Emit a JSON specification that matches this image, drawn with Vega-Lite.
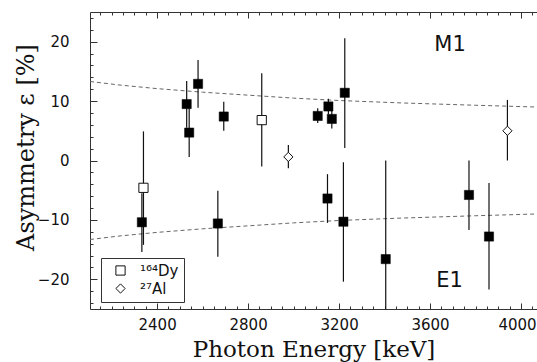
{
  "$schema": "https://vega.github.io/schema/vega-lite/v6.json",
  "width": 447,
  "height": 297,
  "autosize": {"type": "none"},
  "padding": {"left": 90, "top": 12, "right": 0, "bottom": 53},
  "background": "white",
  "config": {
    "view": {"stroke": null},
    "axis": {
      "grid": false,
      "domainColor": "#333",
      "domainWidth": 1,
      "tickColor": "#333",
      "tickWidth": 1,
      "labelColor": "#111",
      "labelFont": "DejaVu Sans",
      "labelFontSize": 15,
      "labelOverlap": false,
      "labelFlush": false,
      "titleColor": "#111",
      "titleFont": "DejaVu Serif",
      "titleFontSize": 23,
      "titleFontWeight": "normal"
    }
  },
  "datasets": {
    "pts": [
      {"E": 2333, "eps": -10.4, "lo": -15.4, "hi": -5.5, "kind": "filled", "target": "¹⁶⁴Dy"},
      {"E": 2340, "eps": -4.6, "lo": -14.2, "hi": 4.9, "kind": "open", "target": "¹⁶⁴Dy"},
      {"E": 2530, "eps": 9.5, "lo": 5.5, "hi": 13.4, "kind": "filled", "target": "¹⁶⁴Dy"},
      {"E": 2541, "eps": 4.7, "lo": 0.6, "hi": 8.8, "kind": "filled", "target": "¹⁶⁴Dy"},
      {"E": 2580, "eps": 12.9, "lo": 8.9, "hi": 16.9, "kind": "filled", "target": "¹⁶⁴Dy"},
      {"E": 2667, "eps": -10.6, "lo": -16.2, "hi": -5.1, "kind": "filled", "target": "¹⁶⁴Dy"},
      {"E": 2693, "eps": 7.4, "lo": 5.0, "hi": 9.9, "kind": "filled", "target": "¹⁶⁴Dy"},
      {"E": 2860, "eps": 6.8, "lo": -1.0, "hi": 14.7, "kind": "open", "target": "¹⁶⁴Dy"},
      {"E": 2977, "eps": 0.6, "lo": -1.3, "hi": 2.6, "kind": "open", "target": "²⁷Al"},
      {"E": 3106, "eps": 7.5, "lo": 6.3, "hi": 8.8, "kind": "filled", "target": "¹⁶⁴Dy"},
      {"E": 3149, "eps": -6.4, "lo": -10.5, "hi": -2.3, "kind": "filled", "target": "¹⁶⁴Dy"},
      {"E": 3153, "eps": 9.1, "lo": 7.8, "hi": 10.4, "kind": "filled", "target": "¹⁶⁴Dy"},
      {"E": 3168, "eps": 7.0, "lo": 5.4, "hi": 8.6, "kind": "filled", "target": "¹⁶⁴Dy"},
      {"E": 3219, "eps": -10.3, "lo": -20.4, "hi": -0.3, "kind": "filled", "target": "¹⁶⁴Dy"},
      {"E": 3225, "eps": 11.4, "lo": 2.1, "hi": 20.6, "kind": "filled", "target": "¹⁶⁴Dy"},
      {"E": 3405, "eps": -16.6, "lo": -33.0, "hi": 0.0, "kind": "filled", "target": "¹⁶⁴Dy"},
      {"E": 3771, "eps": -5.8, "lo": -11.7, "hi": 0.0, "kind": "filled", "target": "¹⁶⁴Dy"},
      {"E": 3859, "eps": -12.8, "lo": -21.7, "hi": -3.8, "kind": "filled", "target": "¹⁶⁴Dy"},
      {"E": 3940, "eps": 5.0, "lo": 0.0, "hi": 10.2, "kind": "open", "target": "²⁷Al"}
    ],
    "curves": [
      {"E": 2105, "v": 13.3, "curve": "M1"},
      {"E": 2237, "v": 12.7, "curve": "M1"},
      {"E": 2400, "v": 12.1, "curve": "M1"},
      {"E": 2600, "v": 11.5, "curve": "M1"},
      {"E": 2800, "v": 11.0, "curve": "M1"},
      {"E": 3000, "v": 10.5, "curve": "M1"},
      {"E": 3200, "v": 10.1, "curve": "M1"},
      {"E": 3468, "v": 9.7, "curve": "M1"},
      {"E": 3800, "v": 9.3, "curve": "M1"},
      {"E": 4070, "v": 9.0, "curve": "M1"},
      {"E": 2105, "v": -13.3, "curve": "E1"},
      {"E": 2237, "v": -12.7, "curve": "E1"},
      {"E": 2400, "v": -12.1, "curve": "E1"},
      {"E": 2600, "v": -11.5, "curve": "E1"},
      {"E": 2800, "v": -11.0, "curve": "E1"},
      {"E": 3000, "v": -10.5, "curve": "E1"},
      {"E": 3200, "v": -10.1, "curve": "E1"},
      {"E": 3468, "v": -9.7, "curve": "E1"},
      {"E": 3800, "v": -9.3, "curve": "E1"},
      {"E": 4070, "v": -9.0, "curve": "E1"}
    ],
    "labels": [
      {"E": 3688, "v": 18.4, "label": "M1"},
      {"E": 3686, "v": -21.3, "label": "E1"}
    ]
  },
  "layer": [
    {
      "data": {"name": "curves"},
      "mark": {"type": "line", "stroke": "#666", "strokeWidth": 1, "strokeDash": [4, 3], "clip": true},
      "encoding": {
        "x": {
          "field": "E", "type": "quantitative",
          "scale": {"domain": [2105, 4070], "nice": false, "zero": false},
          "axis": {
            "orient": "bottom",
            "values": [2150,2200,2250,2300,2350,2400,2450,2500,2550,2600,2650,2700,2750,2800,2850,2900,2950,3000,3050,3100,3150,3200,3250,3300,3350,3400,3450,3500,3550,3600,3650,3700,3750,3800,3850,3900,3950,4000,4050],
            "format": "d",
            "labelExpr": "datum.value % 400 === 0 ? datum.label : ''",
            "labelOffset": {"condition": {"test": "datum.value === 4000", "value": -4}, "value": 0},
            "tickSize": {"condition": {"test": "datum.value % 400 === 0", "value": -6}, "value": -3},
            "labelPadding": 14,
            "title": "Photon Energy [keV]",
            "titleY": 47,
            "titleBaseline": "alphabetic"
          }
        },
        "y": {
          "field": "v", "type": "quantitative",
          "scale": {"domain": [-25, 25], "nice": false, "zero": false},
          "axis": {
            "orient": "left",
            "values": [-24,-22,-20,-18,-16,-14,-12,-10,-8,-6,-4,-2,0,2,4,6,8,10,12,14,16,18,20,22,24],
            "labelExpr": "datum.value % 10 === 0 ? datum.label : ''",
            "tickSize": {"condition": {"test": "datum.value % 10 === 0", "value": -7}, "value": -3},
            "labelPadding": 28,
            "title": "Asymmetry ε [%]",
            "titleFontSize": 24,
            "titleX": -64,
            "titleY": 135,
            "titleAngle": -90,
            "titleAlign": "center",
            "titleBaseline": "middle"
          }
        },
        "detail": {"field": "curve"}
      }
    },
    {
      "mark": {"type": "rule", "stroke": "#555", "strokeWidth": 1},
      "encoding": {"y": {"datum": 0, "axis": null}}
    },
    {
      "data": {"name": "pts"},
      "mark": {"type": "rule", "stroke": "#111", "strokeWidth": 1.2, "clip": true},
      "encoding": {
        "x": {
          "field": "E", "type": "quantitative",
          "axis": {
            "orient": "top",
            "values": [2150,2200,2250,2300,2350,2400,2450,2500,2550,2600,2650,2700,2750,2800,2850,2900,2950,3000,3050,3100,3150,3200,3250,3300,3350,3400,3450,3500,3550,3600,3650,3700,3750,3800,3850,3900,3950,4000,4050],
            "labels": false,
            "title": null,
            "tickSize": {"condition": {"test": "datum.value % 400 === 0", "value": -6}, "value": -3}
          }
        },
        "y": {"field": "lo", "type": "quantitative", "axis": null},
        "y2": {"field": "hi"}
      }
    },
    {
      "data": {"name": "pts"},
      "transform": [{"filter": "datum.kind === 'filled'"}],
      "mark": {"type": "point", "shape": "square", "filled": true, "fill": "#000", "stroke": "#000", "strokeWidth": 0.5, "size": 85, "opacity": 1},
      "encoding": {
        "x": {"field": "E", "type": "quantitative", "axis": null},
        "y": {"field": "eps", "type": "quantitative", "axis": null}
      }
    },
    {
      "data": {"name": "pts"},
      "transform": [{"filter": "datum.kind === 'open'"}],
      "mark": {"type": "point", "filled": true, "color": "white", "size": 85, "opacity": 1},
      "encoding": {
        "x": {"field": "E", "type": "quantitative", "axis": null},
        "y": {"field": "eps", "type": "quantitative", "axis": null},
        "shape": {
          "field": "target", "type": "nominal",
          "scale": {"domain": ["¹⁶⁴Dy", "²⁷Al"], "range": ["square", "diamond"]},
          "legend": null
        }
      }
    },
    {
      "data": {"name": "pts"},
      "transform": [{"filter": "datum.kind === 'open'"}],
      "mark": {"type": "point", "filled": false, "color": "#111", "strokeWidth": 1, "size": 85, "opacity": 1},
      "encoding": {
        "x": {"field": "E", "type": "quantitative", "axis": null},
        "y": {"field": "eps", "type": "quantitative", "axis": null},
        "shape": {
          "field": "target", "type": "nominal",
          "scale": {"domain": ["¹⁶⁴Dy", "²⁷Al"], "range": ["square", "diamond"]},
          "legend": {
            "orient": "none",
            "legendX": 11,
            "legendY": 246,
            "title": null,
            "strokeColor": "#333",
            "fillColor": "white",
            "padding": 5,
            "labelFont": "DejaVu Sans",
            "labelFontSize": 15,
            "labelColor": "#111",
            "symbolSize": 85,
            "symbolStrokeWidth": 1,
            "symbolStrokeColor": "#111",
            "symbolOffset": 7,
            "labelOffset": 12,
            "rowPadding": 2
          }
        }
      }
    },
    {
      "data": {"name": "labels"},
      "mark": {"type": "text", "font": "DejaVu Sans", "fontSize": 21, "align": "center", "baseline": "alphabetic", "color": "#111"},
      "encoding": {
        "x": {"field": "E", "type": "quantitative", "axis": null},
        "y": {"field": "v", "type": "quantitative", "axis": null},
        "text": {"field": "label"}
      }
    }
  ],
  "resolve": {"axis": {"x": "independent", "y": "independent"}, "legend": {"shape": "independent"}}
}
